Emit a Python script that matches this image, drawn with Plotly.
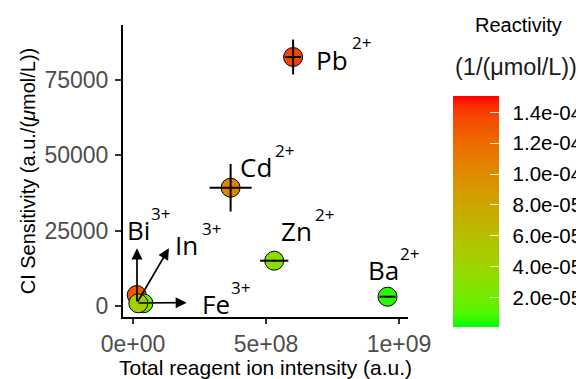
import numpy as np
import plotly.graph_objects as go

# ---- data ----
ions = ["Bi", "Fe", "In", "Zn", "Cd", "Pb", "Ba"]
charges = ["3+", "3+", "3+", "2+", "2+", "2+", "2+"]
intensity = [1.4e7, 3.9e7, 2.0e7, 5.31e8, 3.67e8, 6.02e8, 9.57e8]
intensity_err = [0, 0, 0, 5.3e7, 7.9e7, 3.0e7, 3.0e7]
sensitivity = [3650, 900, 900, 15040, 39280, 82670, 3090]
sensitivity_err = [0, 0, 0, 300, 7900, 5800, 200]
reactivity = [1.30e-4, 2.0e-5, 4.5e-5, 3.0e-5, 1.05e-4, 1.38e-4, 5.0e-6]
react_min, react_max = 7e-7, 1.506e-4

x_tickvals = [0, 5e8, 1e9]
x_ticktext = ["0e+00", "5e+08", "1e+09"]
y_tickvals = [0, 25000, 50000, 75000]
y_ticktext = ["0", "25000", "50000", "75000"]
cb_tickvals = [2e-5, 4e-5, 6e-5, 8e-5, 1e-4, 1.2e-4, 1.4e-4]
cb_ticktext = ["2.0e-05", "4.0e-05", "6.0e-05", "8.0e-05", "1.0e-04", "1.2e-04", "1.4e-04"]

# label positions (data coords): ion name (left edge, centre) and charge (left edge)
label_x = {"Bi": -2.8e7, "In": 1.56e8, "Fe": 2.54e8, "Zn": 5.51e8, "Cd": 4.0e8, "Pb": 6.83e8, "Ba": 8.78e8}
label_y = {"Bi": 25230, "In": 20250, "Fe": 664, "Zn": 24900, "Cd": 46150, "Pb": 81700, "Ba": 11950}
charge_x = {"Bi": 6.4e7, "In": 2.54e8, "Fe": 3.65e8, "Zn": 6.82e8, "Cd": 5.32e8, "Pb": 8.18e8, "Ba": 1.0e9}

# arrows from the clustered points (start -> tip)
arrow_start = (1.5e7, 1000)
arrow_tips = {"Bi": (1.5e7, 19150), "In": (1.35e8, 19150), "Fe": (2.02e8, 1100)}


# ---- Lab-space gradient green -> red (like ggplot) ----
def srgb_to_lin(c):
    c = np.asarray(c, float)
    return np.where(c <= 0.04045, c / 12.92, ((c + 0.055) / 1.055) ** 2.4)


def lin_to_srgb(c):
    c = np.clip(c, 0, 1)
    return np.where(c <= 0.0031308, 12.92 * c, 1.055 * c ** (1 / 2.4) - 0.055)


M = np.array([[0.4124, 0.3576, 0.1805], [0.2126, 0.7152, 0.0722], [0.0193, 0.1192, 0.9505]])
Minv = np.linalg.inv(M)
WP = np.array([0.95047, 1.0, 1.08883])


def f(t):
    return np.where(t > 0.008856, np.cbrt(t), 7.787 * t + 16 / 116)


def finv(t):
    return np.where(t > 0.206893, t ** 3, (t - 16 / 116) / 7.787)


def rgb_to_lab(rgb):
    xyz = M @ srgb_to_lin(rgb) / WP
    fx, fy, fz = f(xyz)
    return np.array([116 * fy - 16, 500 * (fx - fy), 200 * (fy - fz)])


def lab_to_rgb(lab):
    L, a, b = lab
    fy = (L + 16) / 116
    fx = fy + a / 500
    fz = fy - b / 200
    xyz = np.array([finv(fx), finv(fy), finv(fz)]) * WP
    return lin_to_srgb(Minv @ xyz)


lab_lo = rgb_to_lab([0, 1, 0])
lab_hi = rgb_to_lab([1, 0, 0])
colorscale = []
for t in np.linspace(0, 1, 21):
    r, g, b = lab_to_rgb(lab_lo + (lab_hi - lab_lo) * t)
    colorscale.append([float(t), "rgb(%d,%d,%d)" % (round(r * 255), round(g * 255), round(b * 255))])

cb_common = dict(x=1.158, xanchor="left", xpad=0, y=0.361, yanchor="middle", ypad=0,
                 len=0.791, lenmode="fraction", thickness=46, outlinewidth=0,
                 tickvals=cb_tickvals)

fig = go.Figure()

# points
fig.add_trace(go.Scatter(
    x=intensity, y=sensitivity, mode="markers",
    marker=dict(
        size=19, color=reactivity, colorscale=colorscale, cmin=react_min, cmax=react_max,
        line=dict(color="black", width=1), opacity=1,
        colorbar=dict(
            **cb_common, ticktext=cb_ticktext, ticks="outside", ticklen=10,
            tickcolor="rgba(0,0,0,0)",
            tickfont=dict(family="Liberation Sans", size=20.5, color="black"),
        ),
    ),
    showlegend=False, hoverinfo="skip",
))

# overlay colorbar carrying the white inner tick marks
fig.add_trace(go.Scatter(
    x=intensity, y=sensitivity, mode="markers",
    marker=dict(
        size=1, opacity=0, color=reactivity, colorscale=colorscale, cmin=react_min, cmax=react_max,
        colorbar=dict(**cb_common, showticklabels=False, ticks="inside", ticklen=9,
                      tickcolor="rgba(255,255,255,0.85)", tickwidth=1),
    ),
    showlegend=False, hoverinfo="skip",
))

# error bars on top of markers
fig.add_trace(go.Scatter(
    x=intensity, y=sensitivity, mode="markers",
    marker=dict(size=1, opacity=0),
    error_x=dict(type="data", array=intensity_err, color="black", thickness=2, width=0),
    error_y=dict(type="data", array=sensitivity_err, color="black", thickness=2, width=0),
    showlegend=False, hoverinfo="skip",
))

annotations = []
for ion, ch in zip(ions, charges):
    annotations.append(dict(
        x=label_x[ion], y=label_y[ion], xref="x", yref="y", xanchor="left", yanchor="middle",
        text=ion, showarrow=False, borderpad=0,
        font=dict(family="Open Sans", size=26, color="black"),
    ))
    annotations.append(dict(
        x=charge_x[ion], y=label_y[ion], xref="x", yref="y", xanchor="left", yanchor="middle",
        yshift=17, text=ch, showarrow=False, borderpad=0,
        font=dict(family="Open Sans", size=17, color="black"),
    ))
for ion, (tx, ty) in arrow_tips.items():
    annotations.append(dict(
        x=tx, y=ty, xref="x", yref="y", ax=arrow_start[0], ay=arrow_start[1],
        axref="x", ayref="y", text="", showarrow=True, arrowhead=2, arrowsize=1.3,
        arrowwidth=1.7, arrowcolor="black",
    ))
annotations.append(dict(
    x=1.386, y=1.0, xref="paper", yref="paper", xanchor="center", yanchor="middle",
    text="Reactivity", showarrow=False, font=dict(family="Liberation Sans", size=20, color="black"),
))
annotations.append(dict(
    x=1.38, y=0.856, xref="paper", yref="paper", xanchor="center", yanchor="middle",
    text="(1/(μmol/L))", showarrow=False, font=dict(family="Liberation Sans", size=23.5, color="#1a1a1a"),
))

# page body adds an 8px offset, so the figure is 8px smaller and shifted
fig.update_layout(
    width=576, height=371,
    margin=dict(l=115, r=176, t=17, b=62, autoexpand=False),
    plot_bgcolor="white", paper_bgcolor="white",
    annotations=annotations,
    xaxis=dict(
        range=[-3.76e7, 1.034e9], tickvals=x_tickvals, ticktext=x_ticktext,
        showline=True, linecolor="black", linewidth=2, showgrid=False, zeroline=False,
        ticks="outside", ticklen=5, tickwidth=1.5, tickcolor="#333333",
        tickfont=dict(family="Liberation Sans", size=23, color="#4d4d4d"),
        title=dict(text="Total reagent ion intensity (a.u.)", standoff=4,
                   font=dict(family="Liberation Sans", size=21, color="black")),
    ),
    yaxis=dict(
        range=[-3650, 93300], tickvals=y_tickvals, ticktext=y_ticktext,
        showline=True, linecolor="black", linewidth=2, showgrid=False, zeroline=False,
        ticks="outside", ticklen=6, tickwidth=1.5, tickcolor="#333333", ticklabelstandoff=2,
        tickfont=dict(family="Liberation Sans", size=23, color="#4d4d4d"),
        title=dict(text="CI Sensitivity (a.u./(<i>μ</i>mol/L))", standoff=3,
                   font=dict(family="Liberation Sans", size=20, color="black")),
    ),
)

fig.write_html("out.html")
